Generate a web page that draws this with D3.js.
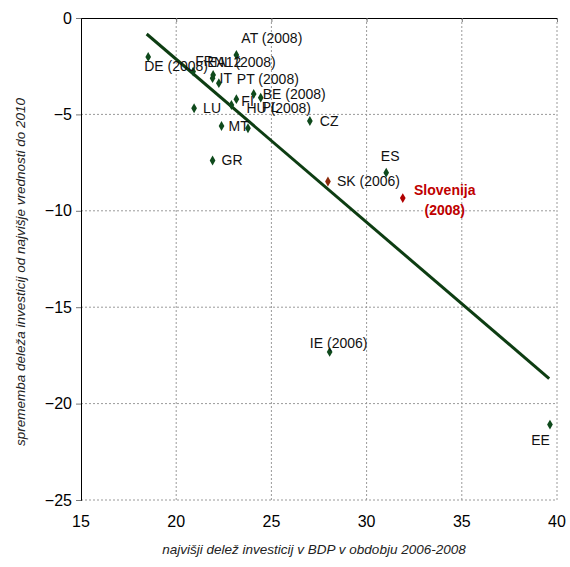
<!DOCTYPE html>
<html>
<head>
<meta charset="utf-8">
<script src="https://cdn.jsdelivr.net/npm/d3@7"></script>
<style>
  body { margin: 0; background: #fff; }
  text { font-family: Arial, "Liberation Sans", sans-serif; }
</style>
</head>
<body>
<div class="canva"></div>
<script>
// data
const countries = ["DE (2008)", "FR", "EA12", "NL (2008)", "IT", "PT (2008)", "AT (2008)", "BE (2008)",
                   "FI", "HU (2008)", "PL", "LU", "MT", "GR", "CZ", "ES", "SK (2006)", "Slovenija (2008)",
                   "IE (2006)", "EE"];
const maxShare = [18.53, 20.89, 21.94, 23.77, 21.91, 22.24, 23.16, 24.07,
                  23.16, 22.90, 24.44, 20.94, 22.38, 21.91, 27.02, 31.03, 27.97, 31.90,
                  28.06, 39.63];
const shareChange = [-2.02, -2.78, -2.95, -5.72, -3.12, -3.38, -1.92, -3.94,
                     -4.21, -4.51, -4.13, -4.68, -5.60, -7.39, -5.34, -8.02, -8.48, -9.34,
                     -17.32, -21.09];
const trendX = [18.45, 39.59];
const trendY = [-0.83, -18.70];
const xTicks = [15, 20, 25, 30, 35, 40];
const yTicks = [0, -5, -10, -15, -20, -25];

// label placement (pixels from the marker)
const labelPos = {
  "DE (2008)": [-4, 9], "FR": [2, -10], "EA12": [-6, -13], "NL (2008)": [-34, -66],
  "IT": [7, 0], "PT (2008)": [18, -4], "AT (2008)": [5, -17], "BE (2008)": [9, 0],
  "FI": [5, 2], "HU (2008)": [15, 3], "PL": [1, 9], "LU": [9, 0], "MT": [7, 0],
  "GR": [9, 0], "CZ": [10, 0], "ES": [4, -17, "middle"], "SK (2006)": [9, 0],
  "IE (2006)": [9, -9, "middle"], "EE": [0, 15, "end"]
};
const markColor = { "SK (2006)": "#8b2a0a", "Slovenija (2008)": "#b00000" };

const points = countries.map((c, i) => ({ name: c, x: maxShare[i], y: shareChange[i] }));

const width = 570, height = 567;
const svg = d3.select(".canva").append("svg")
    .attr("width", width)
    .attr("height", height);

const x = d3.scaleLinear().domain([15, 40]).range([81, 557]);
const y = d3.scaleLinear().domain([0, -25]).range([18, 500]);

// grid
svg.append("g").selectAll("line")
    .data(xTicks.slice(1))
    .enter().append("line")
    .attr("x1", d => x(d)).attr("x2", d => x(d))
    .attr("y1", y(0)).attr("y2", y(-25))
    .attr("stroke", "#9a9a9a").attr("stroke-dasharray", "2,2");
svg.append("g").selectAll("line")
    .data(yTicks.slice(1))
    .enter().append("line")
    .attr("x1", x(15)).attr("x2", x(40))
    .attr("y1", d => y(d)).attr("y2", d => y(d))
    .attr("stroke", "#9a9a9a").attr("stroke-dasharray", "2,2");

// axes
svg.append("g")
    .attr("transform", `translate(0,${y(0)})`)
    .call(d3.axisBottom(x).tickValues(xTicks).tickSize(4).tickFormat(""))
    .call(g => g.select(".domain").attr("stroke", "#000"))
    .call(g => g.selectAll(".tick line").attr("stroke", "#777"));
svg.append("g")
    .attr("transform", `translate(${x(15)},0)`)
    .call(d3.axisLeft(y).tickValues(yTicks).tickSize(5).tickPadding(4))
    .call(g => g.select(".domain").attr("stroke", "#000"))
    .call(g => g.selectAll(".tick line").attr("stroke", "#777"))
    .call(g => g.selectAll("text").attr("font-size", 16).attr("fill", "#000")
        .attr("font-family", "Arial, 'Liberation Sans', sans-serif"));

// x tick labels sit under the plot
svg.append("g").selectAll("text")
    .data(xTicks)
    .enter().append("text")
    .attr("x", d => x(d))
    .attr("y", 527)
    .attr("text-anchor", "middle")
    .attr("font-size", 16)
    .text(d => d);

svg.append("text")
    .attr("x", 314).attr("y", 554)
    .attr("text-anchor", "middle")
    .attr("font-size", 13.5).attr("font-style", "italic")
    .attr("fill", "#222")
    .text("najvišji delež investicij v BDP v obdobju 2006-2008");
svg.append("text")
    .attr("transform", "translate(25,272) rotate(-90)")
    .attr("text-anchor", "middle")
    .attr("font-size", 13.5).attr("font-style", "italic")
    .attr("fill", "#222")
    .text("sprememba deleža investicij od najvišje vrednosti do 2010");

// trend line
svg.append("line")
    .attr("x1", x(trendX[0])).attr("y1", y(trendY[0]))
    .attr("x2", x(trendX[1])).attr("y2", y(trendY[1]))
    .attr("stroke", "#0d3d12").attr("stroke-width", 3);

// markers
svg.append("g").selectAll("path")
    .data(points)
    .enter().append("path")
    .attr("d", d3.symbol().type(d3.symbolDiamond).size(28))
    .attr("transform", d => `translate(${x(d.x)},${y(d.y)})`)
    .attr("fill", d => markColor[d.name] || "#0f4a1c");

// labels
svg.append("g").selectAll("text")
    .data(points.filter(d => labelPos[d.name]))
    .enter().append("text")
    .attr("x", d => x(d.x) + labelPos[d.name][0])
    .attr("y", d => y(d.y) + labelPos[d.name][1])
    .attr("dy", "0.35em")
    .attr("text-anchor", d => labelPos[d.name][2] || "start")
    .attr("font-size", 14)
    .attr("fill", "#111")
    .text(d => d.name);

// Slovenia, bold red two-line label
const si = points.find(d => d.name == "Slovenija (2008)");
const siLabel = svg.append("text")
    .attr("text-anchor", "middle")
    .attr("font-size", 14).attr("font-weight", "bold")
    .attr("fill", "#c00000");
siLabel.append("tspan").attr("x", x(si.x) + 42).attr("y", y(si.y) - 8).attr("dy", "0.35em").text("Slovenija");
siLabel.append("tspan").attr("x", x(si.x) + 42).attr("y", y(si.y) + 12).attr("dy", "0.35em").text("(2008)");
</script>
</body>
</html>
